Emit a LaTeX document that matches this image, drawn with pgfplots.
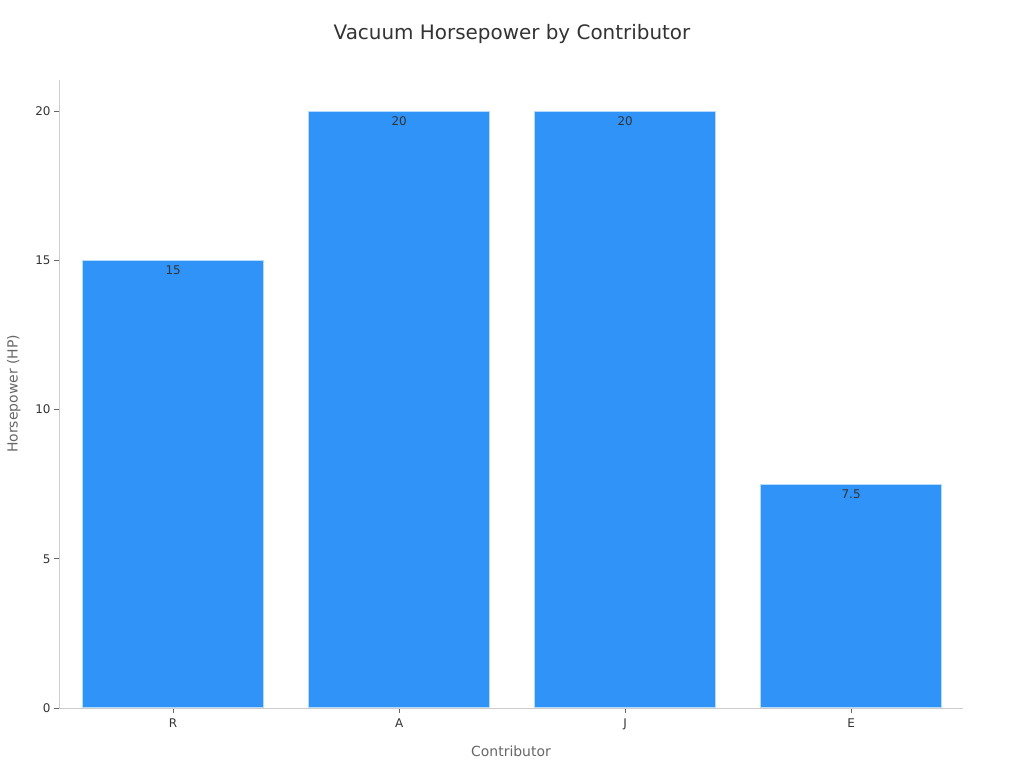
\documentclass[border=0pt]{standalone}
\usepackage{pgfplots}
\pgfplotsset{compat=1.18}
\usepackage{fontspec}
\setmainfont{DejaVu Sans}
\definecolor{barblue}{HTML}{3093F8}
\definecolor{baredge}{HTML}{B5DBFF}
\definecolor{axgray}{HTML}{CCCCCC}
\definecolor{txt}{HTML}{333333}
\definecolor{lbl}{HTML}{666666}
\begin{document}
\begin{tikzpicture}[x=1bp,y=1bp]
\useasboundingbox (0,0) rectangle (1024,768);
\node[font=\fontsize{20}{23}\selectfont, text=txt] at (512,734) {Vacuum Horsepower by Contributor};
\begin{axis}[
    at={(59bp,60bp)}, anchor=south west,
    scale only axis,
    width=904bp, height=628bp,
    xmin=-0.505, xmax=3.495,
    ymin=0, ymax=21.04,
    axis x line*=bottom, axis y line*=left,
    axis line style={axgray, line width=0.8bp},
    xtick=data,
    xticklabels={R,A,J,E},
    ytick={0,5,10,15,20},
    tick align=outside,
    major tick length=5bp,
    tick style={lbl, line width=0.8bp},
    ticklabel style={font=\fontsize{12}{14}\selectfont, text=txt},
    xticklabel style={yshift=-2bp},
    /pgf/number format/assume math mode=true,
    xlabel={Contributor},
    ylabel={Horsepower (HP)},
    label style={font=\fontsize{14}{16}\selectfont, text=lbl},
    xlabel style={yshift=-9bp},
    ylabel style={yshift=8bp},
    ybar, bar width=181bp,
    nodes near coords,
    every node near coord/.append style={anchor=north, font=\fontsize{12}{14}\selectfont, text=txt, yshift=-2bp},
]
\addplot[fill=barblue, draw=baredge, line width=1bp] coordinates {
    (0,15) (1,20) (2,20) (3,7.5)
};
\end{axis}
\end{tikzpicture}
\end{document}
